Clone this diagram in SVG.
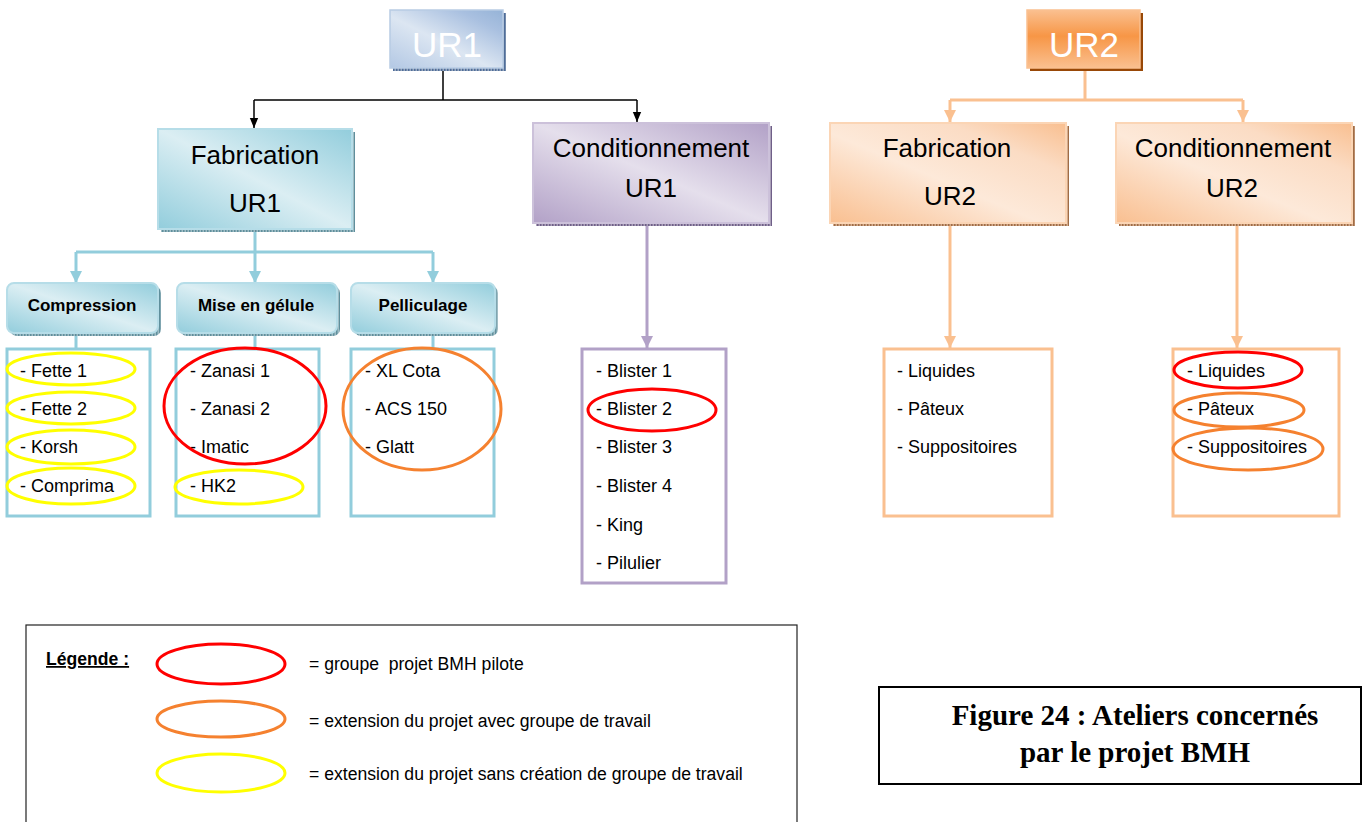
<svg xmlns="http://www.w3.org/2000/svg" width="1364" height="822" viewBox="0 0 1364 822">
<defs>
<linearGradient id="gBlue" x1="0" y1="1" x2="1" y2="0">
<stop offset="0" stop-color="#b3c8e4"/><stop offset="0.45" stop-color="#dce6f2"/><stop offset="0.8" stop-color="#a9c0e0"/><stop offset="1" stop-color="#95b3d7"/>
</linearGradient>
<linearGradient id="gTeal" x1="0" y1="1" x2="1" y2="0">
<stop offset="0" stop-color="#92cddc"/><stop offset="0.5" stop-color="#dbeef3"/><stop offset="1" stop-color="#92cddc"/>
</linearGradient>
<linearGradient id="gPurple" x1="0" y1="1" x2="1" y2="0">
<stop offset="0" stop-color="#b2a1c7"/><stop offset="0.5" stop-color="#e5dfec"/><stop offset="1" stop-color="#b2a1c7"/>
</linearGradient>
<linearGradient id="gPeach" x1="0" y1="1" x2="1" y2="0">
<stop offset="0" stop-color="#f9bf90"/><stop offset="0.45" stop-color="#fde9d9"/><stop offset="0.75" stop-color="#fbdcc4"/><stop offset="1" stop-color="#f9bf90"/>
</linearGradient>
<linearGradient id="gOrange" x1="0" y1="0" x2="0" y2="1">
<stop offset="0" stop-color="#fac090"/><stop offset="0.45" stop-color="#f79646"/><stop offset="1" stop-color="#fac090"/>
</linearGradient>
<pattern id="hTeal" width="3" height="3" patternUnits="userSpaceOnUse"><rect width="3" height="3" fill="#9fbcc4"/><rect width="1.5" height="3" fill="#5f8f9c"/></pattern>
<pattern id="hPurple" width="3" height="3" patternUnits="userSpaceOnUse"><rect width="3" height="3" fill="#aaa0b8"/><rect width="1.5" height="3" fill="#6f5f88"/></pattern>
<pattern id="hPeach" width="3" height="3" patternUnits="userSpaceOnUse"><rect width="3" height="3" fill="#d2ab8d"/><rect width="1.5" height="3" fill="#a06c45"/></pattern>
<pattern id="hBlue" width="3" height="3" patternUnits="userSpaceOnUse"><rect width="3" height="3" fill="#9aa9bf"/><rect width="1.5" height="3" fill="#4f6d99"/></pattern>
<marker id="aBlack" markerUnits="userSpaceOnUse" markerWidth="10" markerHeight="12" refX="12" refY="5" viewBox="0 0 12 10" orient="auto">
<path d="M0,0 L12,5 L0,10 z" fill="#000"/>
</marker>
<marker id="aTeal" markerUnits="userSpaceOnUse" markerWidth="12" markerHeight="14" refX="12" refY="6" viewBox="0 0 12 12" orient="auto">
<path d="M0,0 L12,6 L0,12 z" fill="#92cddc"/>
</marker>
<marker id="aPurple" markerUnits="userSpaceOnUse" markerWidth="12" markerHeight="14" refX="12" refY="6" viewBox="0 0 12 12" orient="auto">
<path d="M0,0 L12,6 L0,12 z" fill="#b2a1c7"/>
</marker>
<marker id="aOrange" markerUnits="userSpaceOnUse" markerWidth="12" markerHeight="14" refX="12" refY="6" viewBox="0 0 12 12" orient="auto">
<path d="M0,0 L12,6 L0,12 z" fill="#fac090"/>
</marker>
</defs>
<style>
text{font-family:"Liberation Sans",Arial,sans-serif;fill:#000}
.top{font-size:35px;fill:#fff;text-anchor:middle}
.hdr{font-size:26px;text-anchor:middle}
.sub{font-size:17px;font-weight:bold;text-anchor:middle}
.item{font-size:18px}
.leg{font-size:17.6px}
.cap{font-family:"Liberation Serif","Times New Roman",serif;font-size:29px;font-weight:bold;text-anchor:middle}
.list-teal{fill:#fff;stroke:#92cddc;stroke-width:3}
.list-purple{fill:#fff;stroke:#b2a1c7;stroke-width:3}
.list-orange{fill:#fff;stroke:#fac090;stroke-width:3}
.e-red{fill:none;stroke:#ff0000;stroke-width:3}
.e-orange{fill:none;stroke:#f5812f;stroke-width:3}
.e-yellow{fill:none;stroke:#ffff00;stroke-width:3}
.c-black{fill:none;stroke:#000;stroke-width:1.5}
.c-teal{fill:none;stroke:#92cddc;stroke-width:3}
.c-purple{fill:none;stroke:#b2a1c7;stroke-width:3}
.c-orange{fill:none;stroke:#fac090;stroke-width:3}
</style>
<rect width="1364" height="822" fill="#fff"/>

<g id="connectors">
<path class="c-black" d="M443,68 V100 M254,100 H637"/>
<path class="c-black" d="M254,100 V128" marker-end="url(#aBlack)"/>
<path class="c-black" d="M637,100 V122" marker-end="url(#aBlack)"/>
<path class="c-teal" d="M255,229 V252 M76,252 H433"/>
<path class="c-teal" d="M76,252 V283" marker-end="url(#aTeal)"/>
<path class="c-teal" d="M255,252 V283" marker-end="url(#aTeal)"/>
<path class="c-teal" d="M433,252 V283" marker-end="url(#aTeal)"/>
<path class="c-teal" d="M76,333 V348 M255,333 V348 M433,333 V348"/>
<path class="c-purple" d="M647,223 V348" marker-end="url(#aPurple)"/>
<path class="c-orange" d="M1085,68 V100 M950,100 H1243"/>
<path class="c-orange" d="M950,100 V122" marker-end="url(#aOrange)"/>
<path class="c-orange" d="M1243,100 V122" marker-end="url(#aOrange)"/>
<path class="c-orange" d="M950,223 V348" marker-end="url(#aOrange)"/>
<path class="c-orange" d="M1237,223 V348" marker-end="url(#aOrange)"/>
</g>

<g id="ur1">
<rect x="393" y="13" width="113" height="58" fill="url(#hBlue)"/>
<rect x="390" y="10" width="113" height="58" fill="url(#gBlue)" stroke="#b8cce4" stroke-width="1.5"/>
<text class="top" x="447" y="57">UR1</text>
</g>
<g id="fabrication-ur1">
<rect x="161" y="132" width="194" height="100" fill="url(#hTeal)"/>
<rect x="158" y="129" width="194" height="100" fill="url(#gTeal)" stroke="#b6dde8" stroke-width="2"/>
<text class="hdr" x="255" y="164">Fabrication</text>
<text class="hdr" x="255" y="212">UR1</text>
</g>
<g id="conditionnement-ur1">
<rect x="536" y="126" width="236" height="100" fill="url(#hPurple)"/>
<rect x="533" y="123" width="236" height="100" fill="url(#gPurple)" stroke="#ccc1da" stroke-width="2"/>
<text class="hdr" x="651" y="157">Conditionnement</text>
<text class="hdr" x="651" y="197">UR1</text>
</g>
<g id="compression">
<rect x="10" y="286" width="151" height="50" rx="7" fill="url(#hTeal)"/>
<rect x="7" y="283" width="151" height="50" rx="7" fill="url(#gTeal)" stroke="#b6dde8" stroke-width="2"/>
<text class="sub" x="82" y="311">Compression</text>
</g>
<g id="mise-en-gelule">
<rect x="180" y="286" width="160" height="50" rx="7" fill="url(#hTeal)"/>
<rect x="177" y="283" width="160" height="50" rx="7" fill="url(#gTeal)" stroke="#b6dde8" stroke-width="2"/>
<text class="sub" x="256" y="311">Mise en gélule</text>
</g>
<g id="pelliculage">
<rect x="354" y="286" width="144" height="50" rx="7" fill="url(#hTeal)"/>
<rect x="351" y="283" width="144" height="50" rx="7" fill="url(#gTeal)" stroke="#b6dde8" stroke-width="2"/>
<text class="sub" x="423" y="311">Pelliculage</text>
</g>
<g id="ur2">
<rect x="1030" y="13" width="113" height="58" fill="#984807"/>
<rect x="1027" y="10" width="113" height="58" fill="url(#gOrange)" stroke="#fac090" stroke-width="1.5"/>
<text class="top" x="1084" y="57">UR2</text>
</g>
<g id="fabrication-ur2">
<rect x="833" y="126" width="236" height="100" fill="url(#hPeach)"/>
<rect x="830" y="123" width="236" height="100" fill="url(#gPeach)" stroke="#fbd5b5" stroke-width="2"/>
<text class="hdr" x="947" y="157">Fabrication</text>
<text class="hdr" x="950" y="205">UR2</text>
</g>
<g id="conditionnement-ur2">
<rect x="1119" y="126" width="236" height="100" fill="url(#hPeach)"/>
<rect x="1116" y="123" width="236" height="100" fill="url(#gPeach)" stroke="#fbd5b5" stroke-width="2"/>
<text class="hdr" x="1233" y="157">Conditionnement</text>
<text class="hdr" x="1232" y="197">UR2</text>
</g>

<g id="list-compression">
<rect class="list-teal" x="7" y="349" width="143" height="167"/>
<text class="item" x="20" y="377">- Fette 1</text>
<text class="item" x="20" y="415">- Fette 2</text>
<text class="item" x="20" y="453">- Korsh</text>
<text class="item" x="20" y="492">- Comprima</text>
</g>
<g id="list-mise-en-gelule">
<rect class="list-teal" x="176" y="349" width="143" height="167"/>
<text class="item" x="190" y="377">- Zanasi 1</text>
<text class="item" x="190" y="415">- Zanasi 2</text>
<text class="item" x="190" y="453">- Imatic</text>
<text class="item" x="190" y="492">- HK2</text>
</g>
<g id="list-pelliculage">
<rect class="list-teal" x="351" y="349" width="143" height="167"/>
<text class="item" x="365" y="377">- XL Cota</text>
<text class="item" x="365" y="415">- ACS 150</text>
<text class="item" x="365" y="453">- Glatt</text>
</g>
<g id="list-conditionnement-ur1">
<rect class="list-purple" x="582" y="349" width="144" height="234"/>
<text class="item" x="596" y="377">- Blister 1</text>
<text class="item" x="596" y="415">- Blister 2</text>
<text class="item" x="596" y="453">- Blister 3</text>
<text class="item" x="596" y="492">- Blister 4</text>
<text class="item" x="596" y="531">- King</text>
<text class="item" x="596" y="569">- Pilulier</text>
</g>
<g id="list-fabrication-ur2">
<rect class="list-orange" x="884" y="349" width="168" height="167"/>
<text class="item" x="897" y="377">- Liquides</text>
<text class="item" x="897" y="415">- Pâteux</text>
<text class="item" x="897" y="453">- Suppositoires</text>
</g>
<g id="list-conditionnement-ur2">
<rect class="list-orange" x="1173" y="349" width="166" height="167"/>
<text class="item" x="1187" y="377">- Liquides</text>
<text class="item" x="1187" y="415">- Pâteux</text>
<text class="item" x="1187" y="453">- Suppositoires</text>
</g>

<g id="highlights">
<ellipse class="e-yellow" cx="71" cy="369" rx="64" ry="16"/>
<ellipse class="e-yellow" cx="71" cy="408" rx="64" ry="16"/>
<ellipse class="e-yellow" cx="71" cy="447" rx="64" ry="17"/>
<ellipse class="e-yellow" cx="71" cy="486" rx="64" ry="18"/>
<ellipse class="e-red" cx="245" cy="406" rx="81" ry="58"/>
<ellipse class="e-yellow" cx="239" cy="487" rx="64" ry="17"/>
<ellipse class="e-orange" cx="422" cy="409" rx="79" ry="61"/>
<ellipse class="e-red" cx="652" cy="410" rx="64" ry="21"/>
<ellipse class="e-red" cx="1238" cy="370" rx="64" ry="18"/>
<ellipse class="e-orange" cx="1239" cy="410" rx="65" ry="17"/>
<ellipse class="e-orange" cx="1248" cy="449" rx="75" ry="21"/>
</g>

<g id="legend">
<rect x="26" y="625" width="771" height="210" fill="none" stroke="#222" stroke-width="1.2"/>
<text class="leg" x="46" y="665" font-weight="bold" text-decoration="underline">Légende :</text>
<ellipse class="e-red" cx="221" cy="664" rx="64" ry="20"/>
<ellipse class="e-orange" cx="221" cy="719" rx="64" ry="18"/>
<ellipse class="e-yellow" cx="221" cy="773" rx="64" ry="19"/>
<text class="leg" x="309" y="670" xml:space="preserve">= groupe  projet BMH pilote</text>
<text class="leg" x="309" y="727">= extension du projet avec groupe de travail</text>
<text class="leg" x="309" y="780">= extension du projet sans création de groupe de travail</text>
</g>

<g id="caption">
<rect x="879" y="687" width="482" height="97" fill="#fff" stroke="#000" stroke-width="2"/>
<text class="cap" x="1135" y="725">Figure 24 : Ateliers concernés</text>
<text class="cap" x="1135" y="762">par le projet BMH</text>
</g>
</svg>
